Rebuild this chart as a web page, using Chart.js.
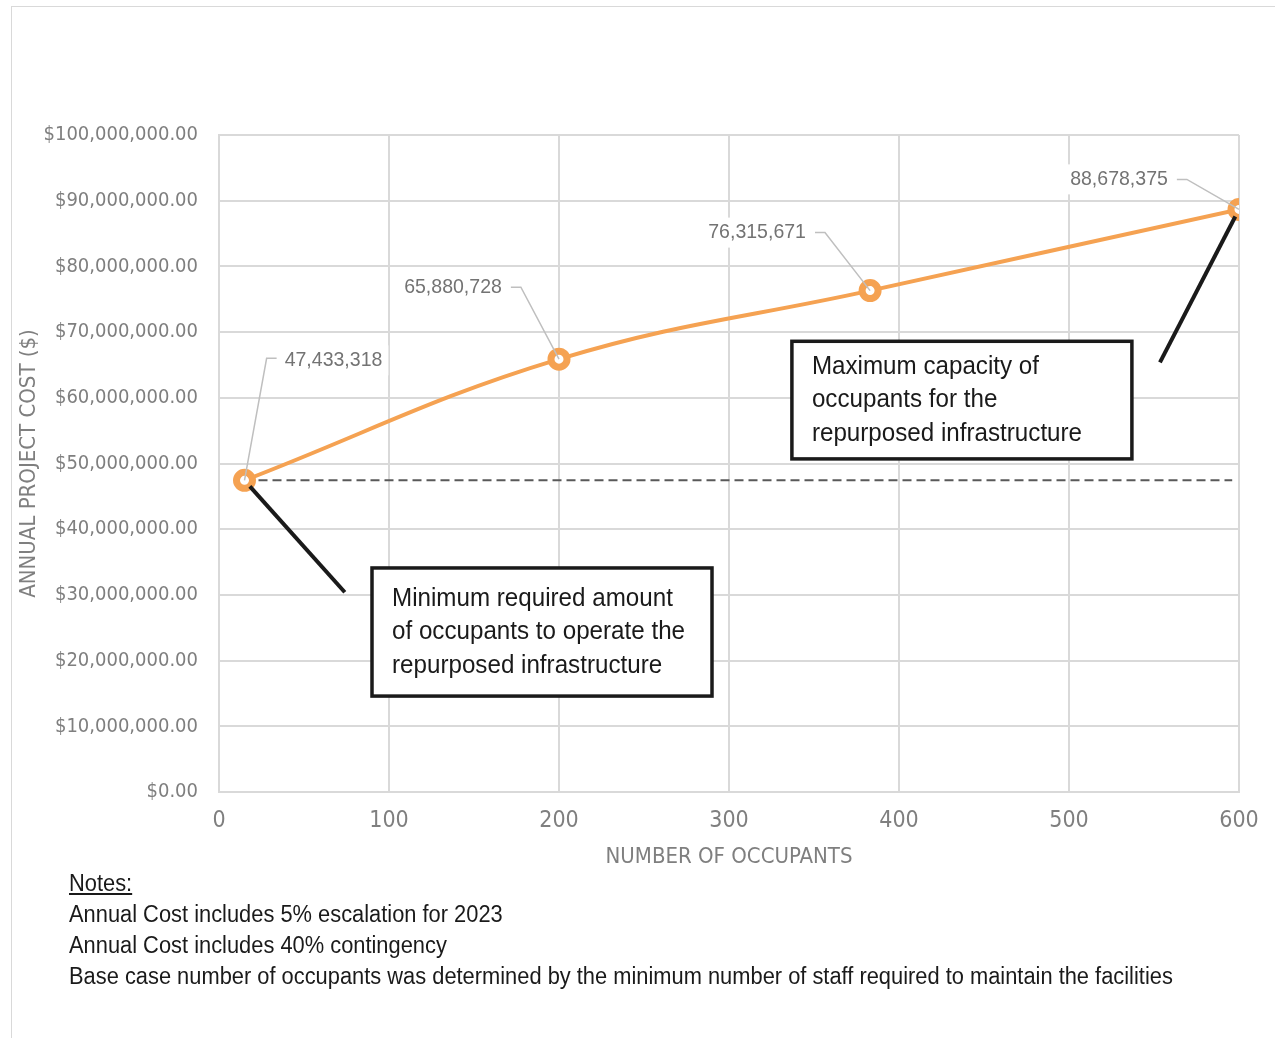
<!DOCTYPE html>
<html>
<head>
<meta charset="utf-8">
<title>Annual Project Cost vs Number of Occupants</title>
<script src="https://cdn.jsdelivr.net/npm/chart.js@4.4.1/dist/chart.umd.min.js"></script>
<style>
  html, body { margin: 0; padding: 0; background: #ffffff; }
  body { width: 1275px; height: 1038px; position: relative; overflow: hidden; }
  .frame {
    position: absolute; left: 11px; top: 6px; width: 1300px; height: 1100px;
    border-left: 1px solid #d9d9d9; border-top: 1px solid #d9d9d9;
  }
  .chart-wrap { position: absolute; left: 0; top: 0; width: 1275px; height: 880px; }
  .notes {
    position: absolute; left: 69px; top: 868px; width: 1400px;
    font-family: "Liberation Sans", Arial, sans-serif;
    font-size: 23.5px; line-height: 31px; color: #1a1a1a;
    transform: scaleX(0.93); transform-origin: 0 0;
  }
  .notes .head { text-decoration: underline; }
</style>
</head>
<body>
<div class="frame"></div>
<div class="chart-wrap"><canvas id="costChart"></canvas></div>
<div class="notes">
  <div class="head">Notes:</div>
  <div>Annual Cost includes 5% escalation for 2023</div>
  <div>Annual Cost includes 40% contingency</div>
  <div>Base case number of occupants was determined by the minimum number of staff required to maintain the facilities</div>
</div>

<script>
// ============================================
// DATA
// ============================================
const occupants = [15, 200, 383, 600];
const annualCost = [47433318, 65880728, 76315671, 88678375];

// dashed reference line at the base case cost
const baseLineX = [15, 596];

// axis ranges
const xTickValues = [0, 100, 200, 300, 400, 500, 600];
const yMin = 0;
const yMax = 100000000;
const yStep = 10000000;

// callout notes
const calloutMinText = ['Minimum required amount', 'of occupants to operate the', 'repurposed infrastructure'];
const calloutMaxText = ['Maximum capacity of', 'occupants for the', 'repurposed infrastructure'];

// ============================================
// STYLE
// ============================================
const FONT = '"Liberation Sans Narrow", "Arial Narrow", "DejaVu Sans Condensed", sans-serif';
const WIDE_FONT = '"Liberation Sans", Arial, sans-serif';
const NARROW = 0.93; // horizontal squeeze to mimic a narrow face
const ORANGE = '#f5a252';
const GRID = '#d9d9d9';
const AXIS_TEXT = '#7f7f7f';

// pixel offsets of each data label from its point
const labelOffsets = [
  { dx: 89, dy: -120 },
  { dx: -106, dy: -72 },
  { dx: -113, dy: -58 },
  { dx: -120, dy: -30 }
];

// callout boxes, anchored in data units
const callouts = [
  { x0: 90, x1: 290, y0: 34100000, y1: 14600000, lines: calloutMinText,
    from: { x: 74, y: 30400000 }, to: 0 },
  { x0: 337, x1: 537, y0: 68600000, y1: 50700000, lines: calloutMaxText,
    from: { x: 553.5, y: 65400000 }, to: 3 }
];

function money(v) {
  return '$' + v.toLocaleString('en-US', { minimumFractionDigits: 2, maximumFractionDigits: 2 });
}

// draw text squeezed horizontally, anchored at x
function narrowText(ctx, text, x, y, align) {
  ctx.save();
  ctx.translate(x, y);
  ctx.scale(NARROW, 1);
  ctx.textAlign = align;
  ctx.fillText(text, 0, 0);
  ctx.restore();
}

// ============================================
// ANNOTATION PLUGIN (labels, leaders, callouts)
// ============================================
const annotationPlugin = {
  id: 'annotations',
  afterDatasetsDraw(chart) {
    const ctx = chart.ctx;
    const xs = chart.scales.x;
    const ys = chart.scales.y;
    const meta = chart.getDatasetMeta(0);

    ctx.save();

    // data labels with leader lines
    ctx.font = '21px ' + WIDE_FONT;
    ctx.textBaseline = 'middle';
    meta.data.forEach((pt, i) => {
      const off = labelOffsets[i];
      const text = annualCost[i].toLocaleString('en-US');
      const w = ctx.measureText(text).width * NARROW;
      const cx = pt.x + off.dx;
      const cy = pt.y + off.dy;

      // white box behind the label hides the grid
      ctx.fillStyle = '#ffffff';
      ctx.fillRect(cx - w / 2 - 6, cy - 15, w + 12, 30);

      ctx.fillStyle = '#737373';
      narrowText(ctx, text, cx, cy, 'center');

      // leader: short horizontal stub then line to the point
      ctx.strokeStyle = '#bfbfbf';
      ctx.lineWidth = 1.5;
      ctx.beginPath();
      if (off.dx > 0) {
        const sx = cx - w / 2 - 8;
        ctx.moveTo(sx, cy - 2);
        ctx.lineTo(sx - 10, cy - 2);
      } else {
        const sx = cx + w / 2 + 9;
        ctx.moveTo(sx, cy);
        ctx.lineTo(sx + 10, cy);
      }
      ctx.lineTo(pt.x, pt.y);
      ctx.stroke();
    });

    // callout boxes and pointer lines
    callouts.forEach(c => {
      const left = xs.getPixelForValue(c.x0);
      const right = xs.getPixelForValue(c.x1);
      const top = ys.getPixelForValue(c.y0);
      const bottom = ys.getPixelForValue(c.y1);

      ctx.fillStyle = '#ffffff';
      ctx.fillRect(left, top, right - left, bottom - top);
      ctx.strokeStyle = '#1a1a1a';
      ctx.lineWidth = 3.5;
      ctx.strokeRect(left, top, right - left, bottom - top);

      ctx.fillStyle = '#1a1a1a';
      ctx.font = '26px ' + WIDE_FONT;
      ctx.textBaseline = 'middle';
      const lh = 33.5;
      const firstY = top + (bottom - top) / 2 - lh;
      c.lines.forEach((line, k) => {
        narrowText(ctx, line, left + 20, firstY + k * lh, 'left');
      });

      const target = meta.data[c.to];
      const fx = xs.getPixelForValue(c.from.x);
      const fy = ys.getPixelForValue(c.from.y);
      const ang = Math.atan2(target.y - fy, target.x - fx);
      const r = 8;
      ctx.strokeStyle = '#1a1a1a';
      ctx.lineWidth = 4;
      ctx.beginPath();
      ctx.moveTo(fx, fy);
      ctx.lineTo(target.x - Math.cos(ang) * r, target.y - Math.sin(ang) * r);
      ctx.stroke();
    });

    ctx.restore();
  }
};

// ============================================
// CHART
// ============================================
const ctx = document.getElementById('costChart').getContext('2d');

new Chart(ctx, {
  type: 'scatter',
  data: {
    datasets: [
      {
        label: 'Annual Project Cost',
        data: occupants.map((x, i) => ({ x: x, y: annualCost[i] })),
        showLine: true,
        borderColor: ORANGE,
        borderWidth: 4,
        tension: 0.4,
        pointRadius: 8,
        pointBorderWidth: 7,
        pointBackgroundColor: '#ffffff',
        pointBorderColor: ORANGE,
        order: 1
      },
      {
        label: 'Base case',
        data: baseLineX.map(x => ({ x: x, y: annualCost[0] })),
        showLine: true,
        borderColor: '#595959',
        borderWidth: 2,
        borderDash: [9, 5],
        pointRadius: 0,
        order: 2
      }
    ]
  },
  options: {
    responsive: true,
    maintainAspectRatio: false,
    animation: false,
    layout: { padding: { top: 135, right: 36, left: 0, bottom: 0 } },
    plugins: {
      legend: { display: false },
      tooltip: { enabled: false }
    },
    scales: {
      x: {
        type: 'linear',
        min: xTickValues[0],
        max: xTickValues[xTickValues.length - 1],
        afterFit: scale => { scale.height = 88; },
        afterBuildTicks: scale => { scale.ticks = xTickValues.map(v => ({ value: v })); },
        grid: { color: GRID, lineWidth: 2, drawTicks: false },
        border: { color: GRID, width: 2 },
        ticks: {
          padding: 15,
          color: AXIS_TEXT,
          font: { family: FONT, size: 23 }
        },
        title: {
          display: true,
          text: 'NUMBER OF OCCUPANTS',
          color: AXIS_TEXT,
          font: { family: FONT, size: 22 },
          padding: { top: 0, bottom: 10 }
        }
      },
      y: {
        min: yMin,
        max: yMax,
        afterFit: scale => { scale.width = 219; },
        grid: { color: GRID, lineWidth: 2, drawTicks: false },
        border: { color: GRID, width: 2 },
        ticks: {
          stepSize: yStep,
          padding: 21,
          color: AXIS_TEXT,
          font: { family: FONT, size: 20 },
          callback: v => money(v)
        },
        title: {
          display: true,
          text: 'ANNUAL PROJECT COST ($)',
          color: AXIS_TEXT,
          font: { family: FONT, size: 22 },
          padding: { top: 16, bottom: 0 }
        }
      }
    }
  },
  plugins: [annotationPlugin]
});
</script>
</body>
</html>
